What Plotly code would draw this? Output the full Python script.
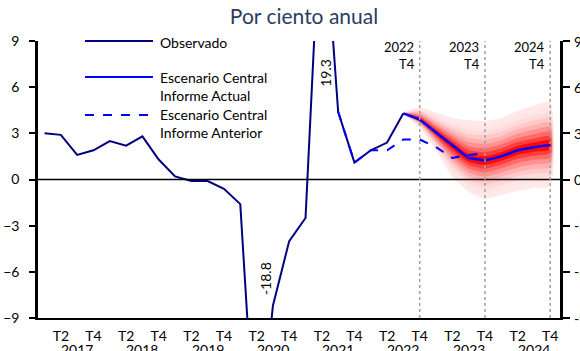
import plotly.graph_objects as go

# ---------------- data ----------------
quarters = [f"{y}Q{q}" for y in range(2017, 2025) for q in range(1, 5)]  # 2017Q1..2024Q4
years = ["2017", "2018", "2019", "2020", "2021", "2022", "2023", "2024"]
tick_labels = ["T2", "T4"]
yticks = [-9, -6, -3, 0, 3, 6, 9]

observado = [3.0, 2.9, 1.6, 1.9, 2.5, 2.2, 2.8, 1.3, 0.2, -0.1, -0.1, -0.6,
             -1.6, -18.8, -8.2, -4.0, -2.5, 19.3, 4.4, 1.1, 1.9, 2.4, 4.3]  # 2017Q1..2022Q3

actual_start = 22  # 2022Q3
actual_central = [4.3, 3.9, 3.05, 2.2, 1.4, 1.23, 1.5, 1.9, 2.1, 2.25]   # 2022Q3..2024Q4
fan_upper = [4.3, 4.7, 4.35, 4.0, 3.85, 3.8, 4.0, 4.45, 4.8, 5.0]
fan_lower = [4.3, 3.4, 1.9, 0.2, -0.8, -1.25, -1.0, -0.75, -0.55, -0.45]

anterior_start = 18  # 2021Q3
anterior_central = [4.4, 1.1, 1.9, 1.9, 2.6, 2.6, 2.1, 1.4, 1.6, 1.7]  # 2021Q3..2023Q4

marked_quarters = ["2022Q4", "2023Q4", "2024Q4"]

# ---------------- layout constants (screen pixels) ----------------
SCR_W, SCR_H = 580, 351
PL, PR, PT, PB = 38, 560, 41, 318        # plot area on screen
L, R, T, B = PL, SCR_W - PR, PT, SCR_H - PB
PW, PH = PR - PL, PB - PT
FONT = "Lato"
NAVY = "#000080"
BLUE = "#0000FF"


def px2x(px):
    return (px - PL) / PW


def py2y(py):
    return (PB - py) / PH


fig = go.Figure()

# fan bands, outer -> inner
fractions = [1.0, 0.87, 0.75, 0.64, 0.53, 0.42, 0.31, 0.21, 0.11]
n = len(fractions)
fan_x = list(range(actual_start, actual_start + len(actual_central)))
for k, f in enumerate(fractions):
    t = (k / (n - 1)) ** 2
    gb = round(232 - (232 - 10) * t)
    col = f"rgb(255,{gb},{gb})"
    up = [c + f * (u - c) for c, u in zip(actual_central, fan_upper)]
    lo = [c - f * (c - l) for c, l in zip(actual_central, fan_lower)]
    fig.add_trace(go.Scatter(
        x=fan_x + fan_x[::-1], y=up + lo[::-1], fill="toself",
        fillcolor=col, line=dict(width=0, shape="spline", smoothing=0.6),
        mode="lines", hoverinfo="skip", showlegend=False))

obs_x = list(range(len(observado)))
fig.add_trace(go.Scatter(x=obs_x, y=observado, mode="lines",
                         line=dict(color=NAVY, width=2), showlegend=False))

ant_x = list(range(anterior_start, anterior_start + len(anterior_central)))
fig.add_trace(go.Scatter(x=ant_x, y=anterior_central, mode="lines",
                         line=dict(color=BLUE, width=2, dash="dash"), showlegend=False))

fig.add_trace(go.Scatter(x=fan_x, y=actual_central, mode="lines",
                         line=dict(color=BLUE, width=2.5), showlegend=False))

# invisible trace to activate the right axis
fig.add_trace(go.Scatter(x=[None], y=[None], yaxis="y2", showlegend=False))

tickvals_x = [i for i in range(len(quarters)) if quarters[i][-1] in ("2", "4")]
ticktext_x = [tick_labels[0] if quarters[i][-1] == "2" else tick_labels[1] for i in tickvals_x]

shapes = []
annotations = []

# zero line
shapes.append(dict(type="line", xref="paper", yref="y", x0=0, x1=1, y0=0, y1=0,
                   line=dict(color="black", width=1.5), layer="above"))

# dotted vertical lines + labels
for q in marked_quarters:
    xi = quarters.index(q)
    shapes.append(dict(type="line", xref="x", yref="paper", x0=xi, x1=xi, y0=0, y1=1,
                       line=dict(color="#a0a0a0", width=1.5, dash="dot"), layer="above"))
    annotations.append(dict(x=xi, xref="x", y=py2y(55.5), yref="paper",
                            text=q[:4] + "<br>T" + q[-1], align="right",
                            showarrow=False, xanchor="right", yanchor="middle", xshift=-3,
                            font=dict(family=FONT, size=13, color="black")))

# year labels (partly cut by the bottom edge, as in the original)
for yr in years:
    xi = quarters.index(f"{yr}Q3")
    annotations.append(dict(x=xi, xref="x", y=py2y(349), yref="paper", yanchor="middle",
                            text=yr, showarrow=False,
                            font=dict(family=FONT, size=14, color="black")))

# right-axis tick labels (cut by the right edge, as in the original)
for v in yticks:
    annotations.append(dict(x=1, xref="paper", y=v, yref="y", xanchor="left",
                            yanchor="middle", xshift=12, text=str(v), showarrow=False,
                            font=dict(family=FONT, size=14, color="black")))

# off-scale value labels
i_min = observado.index(min(observado))
i_max = observado.index(max(observado))
annotations.append(dict(x=i_min, xref="x", y=py2y(297), yref="paper", text=f"{min(observado):.1f}",
                        textangle=-90, showarrow=False, xshift=9,
                        font=dict(family=FONT, size=14, color="black")))
annotations.append(dict(x=i_max, xref="x", y=py2y(57), yref="paper", text=f"{max(observado):.1f}",
                        textangle=-90, showarrow=False, xshift=3,
                        font=dict(family=FONT, size=14, color="black")))

# manual legend
leg = [
    (41, NAVY, "solid", "Observado", 42),
    (77, BLUE, "solid", "Escenario Central<br>Informe Actual", 86),
    (115, BLUE, "dash", "Escenario Central<br>Informe Anterior", 123.5),
]
for ly, col, dash, txt, ty in leg:
    shapes.append(dict(type="line", xref="paper", yref="paper", x0=px2x(85), x1=px2x(153),
                       y0=py2y(ly), y1=py2y(ly), line=dict(color=col, width=2, dash=dash)))
    annotations.append(dict(x=px2x(158), xref="paper", y=py2y(ty), yref="paper",
                            text=txt, showarrow=False, xanchor="left", yanchor="middle",
                            align="left", font=dict(family=FONT, size=14, color="black")))

fig.update_layout(
    width=SCR_W, height=SCR_H,
    margin=dict(l=L, r=R, t=T, b=B, autoexpand=False),
    paper_bgcolor="white", plot_bgcolor="white",
    font=dict(family=FONT, size=14, color="black"),
    title=dict(text="Por ciento anual", x=304 / SCR_W, xanchor="center",
               y=1 - 17 / SCR_H, yanchor="middle", yref="container",
               font=dict(family=FONT, size=21, color="#2a3d63")),
    xaxis=dict(range=[-0.4, 31.6], tickvals=tickvals_x, ticktext=ticktext_x,
               showgrid=False, zeroline=False, showline=True, linecolor="black",
               linewidth=2, ticks="", tickfont=dict(size=14), automargin=False,
               ticklabelstandoff=4),
    yaxis=dict(range=[-9, 9], tickvals=yticks, showgrid=False, zeroline=False,
               showline=True, linecolor="black", linewidth=2.5, ticks="outside",
               ticklen=6, tickwidth=1.5, tickcolor="black", tickfont=dict(size=14),
               automargin=False, ticklabelstandoff=7),
    yaxis2=dict(range=[-9, 9], tickvals=yticks, overlaying="y", side="right",
                showgrid=False, zeroline=False, showline=True, linecolor="black",
                linewidth=2.5, ticks="outside", ticklen=7, tickwidth=1.5,
                tickcolor="black", showticklabels=False, automargin=False),
    shapes=shapes, annotations=annotations,
    showlegend=False,
)

fig.write_html(
    "out.html",
    config={"displayModeBar": False},
    post_script="document.body.style.margin='0';document.body.style.overflow='hidden';",
)
